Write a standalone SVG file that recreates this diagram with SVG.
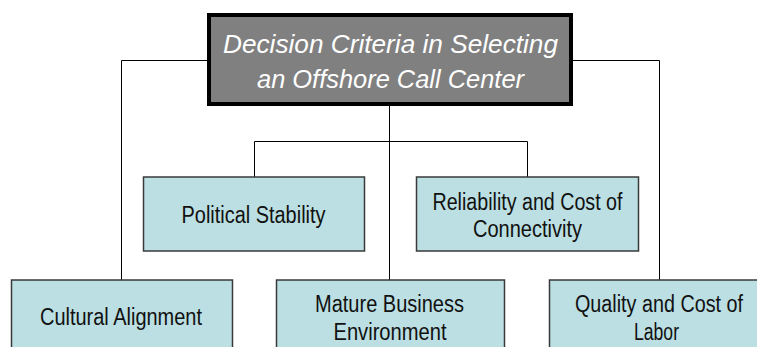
<svg xmlns="http://www.w3.org/2000/svg" width="757" height="347" viewBox="0 0 757 347">
  <style>
    .wire { fill: none; stroke: #000; stroke-width: 1; }
    .box { fill: #BBDFE2; stroke: #3a3a3a; stroke-width: 1.5; }
    .root { fill: #808080; stroke: #000; stroke-width: 4; }
    .lbl { font-family: "Liberation Sans", Arial, sans-serif; font-size: 23px; fill: #111; text-anchor: middle; }
    .title { font-family: "Liberation Sans", Arial, sans-serif; font-size: 26px; font-style: italic; fill: #fff; text-anchor: middle; }
  </style>
  <rect width="757" height="347" fill="#fff"/>

  <!-- connectors -->
  <g id="connectors">
    <path class="wire" d="M209 60.5 H121.5 V280"/>
    <path class="wire" d="M571 60.5 H659.5 V280"/>
    <path class="wire" d="M389.5 106 V280"/>
    <path class="wire" d="M254.5 177 V141.5 H527.5 V177"/>
  </g>

  <!-- root -->
  <g id="root">
    <rect class="root" x="209" y="15" width="362" height="89"/>
    <text class="title" x="390.5" y="52.5" textLength="335" lengthAdjust="spacingAndGlyphs">Decision Criteria in Selecting</text>
    <text class="title" x="390.5" y="88" textLength="267" lengthAdjust="spacingAndGlyphs">an Offshore Call Center</text>
  </g>

  <!-- second tier -->
  <g id="political-stability">
    <rect class="box" x="143.5" y="177" width="221" height="74"/>
    <text class="lbl" x="253.5" y="222.5" textLength="144" lengthAdjust="spacingAndGlyphs">Political Stability</text>
  </g>
  <g id="connectivity">
    <rect class="box" x="416.5" y="177" width="222" height="74"/>
    <text class="lbl" x="527.5" y="209.5" textLength="190" lengthAdjust="spacingAndGlyphs">Reliability and Cost of</text>
    <text class="lbl" x="527.5" y="237" textLength="109" lengthAdjust="spacingAndGlyphs">Connectivity</text>
  </g>

  <!-- third tier -->
  <g id="cultural-alignment">
    <rect class="box" x="11.5" y="280" width="221" height="74"/>
    <text class="lbl" x="121" y="324.5" textLength="162" lengthAdjust="spacingAndGlyphs">Cultural Alignment</text>
  </g>
  <g id="business-environment">
    <rect class="box" x="276.5" y="280" width="228" height="74"/>
    <text class="lbl" x="389.5" y="311.5" textLength="149" lengthAdjust="spacingAndGlyphs">Mature Business</text>
    <text class="lbl" x="390" y="340" textLength="113" lengthAdjust="spacingAndGlyphs">Environment</text>
  </g>
  <g id="labor">
    <rect class="box" x="549.5" y="280" width="221" height="74"/>
    <text class="lbl" x="659" y="312" textLength="168" lengthAdjust="spacingAndGlyphs">Quality and Cost of</text>
    <text class="lbl" x="656.5" y="340" textLength="45" lengthAdjust="spacingAndGlyphs">Labor</text>
  </g>
</svg>
